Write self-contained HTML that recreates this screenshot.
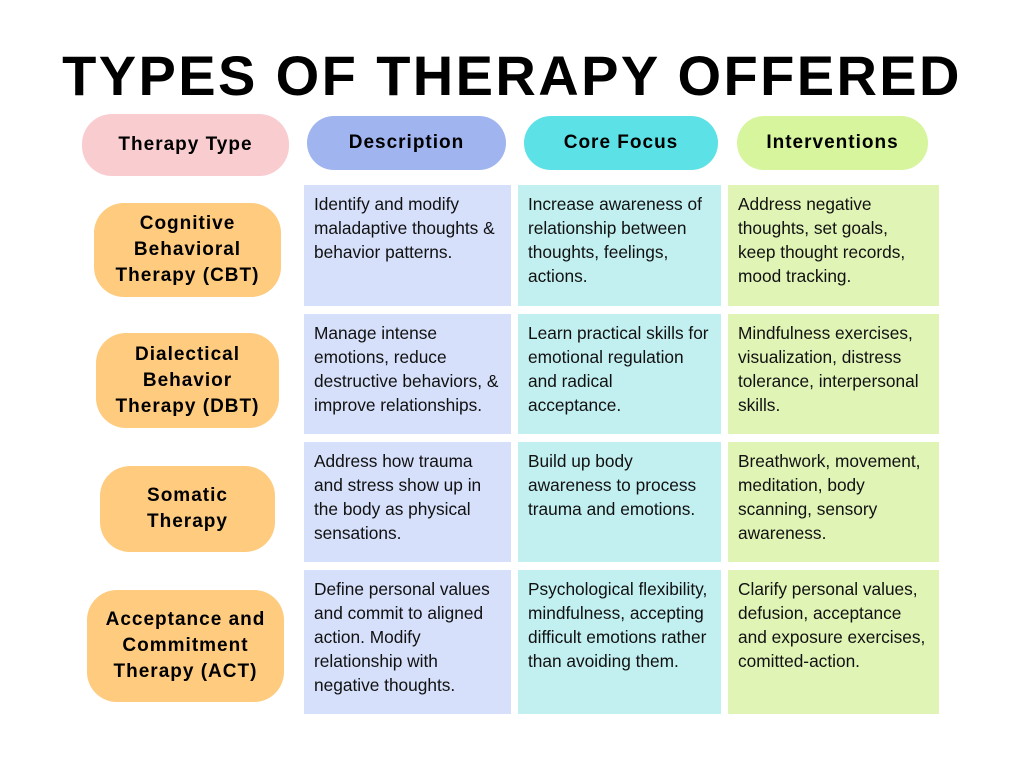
<!DOCTYPE html>
<html><head><style>
*{margin:0;padding:0;box-sizing:border-box}
body{width:1024px;height:768px;background:#fff;position:relative;font-family:"Liberation Sans",sans-serif;overflow:hidden}
.t{position:absolute;left:0;width:1024px;top:44px;text-align:center;font-weight:bold;font-size:56px;letter-spacing:2.4px;color:#000;line-height:64px}
.p{position:absolute;display:flex;align-items:center;justify-content:center;text-align:center;font-weight:bold;color:#000;border-radius:30px;font-size:19px;letter-spacing:1px;line-height:26px}
.c{position:absolute;font-size:17.3px;line-height:24px;color:#111;padding:7px 0 8px 10px;white-space:nowrap}
.d{background:#d6e0fa;left:304px;width:207px}
.f{background:#c2eff0;left:518px;width:203px}
.i{background:#e0f4b6;left:728px;width:211px}
.o{background:#fecb7f}
</style></head><body>
<div class="t">TYPES OF THERAPY OFFERED</div>
<div class="p" style="left:82px;top:114px;width:207px;height:62px;background:#f9cdd0">Therapy Type</div>
<div class="p" style="left:307px;top:116px;width:199px;height:54px;background:#a0b4ef">Description</div>
<div class="p" style="left:524px;top:116px;width:194px;height:54px;background:#5ce1e6">Core Focus</div>
<div class="p" style="left:737px;top:116px;width:191px;height:54px;background:#d6f59c">Interventions</div>

<div class="p o" style="left:94px;top:203px;width:187px;height:94px">Cognitive<br>Behavioral<br>Therapy (CBT)</div>
<div class="p o" style="left:96px;top:333px;width:183px;height:95px">Dialectical<br>Behavior<br>Therapy (DBT)</div>
<div class="p o" style="left:100px;top:466px;width:175px;height:86px">Somatic<br>Therapy</div>
<div class="p o" style="left:87px;top:590px;width:197px;height:112px">Acceptance and<br>Commitment<br>Therapy (ACT)</div>

<div class="c d" style="top:185px;height:121px">Identify and modify<br>maladaptive thoughts &amp;<br>behavior patterns.</div>
<div class="c f" style="top:185px;height:121px">Increase awareness of<br>relationship between<br>thoughts, feelings,<br>actions.</div>
<div class="c i" style="top:185px;height:121px">Address negative<br>thoughts, set goals,<br>keep thought records,<br>mood tracking.</div>

<div class="c d" style="top:314px;height:120px">Manage intense<br>emotions, reduce<br>destructive behaviors, &amp;<br>improve relationships.</div>
<div class="c f" style="top:314px;height:120px">Learn practical skills for<br>emotional regulation<br>and radical<br>acceptance.</div>
<div class="c i" style="top:314px;height:120px">Mindfulness exercises,<br>visualization, distress<br>tolerance, interpersonal<br>skills.</div>

<div class="c d" style="top:442px;height:120px">Address how trauma<br>and stress show up in<br>the body as physical<br>sensations.</div>
<div class="c f" style="top:442px;height:120px">Build up body<br>awareness to process<br>trauma and emotions.</div>
<div class="c i" style="top:442px;height:120px">Breathwork, movement,<br>meditation, body<br>scanning, sensory<br>awareness.</div>

<div class="c d" style="top:570px;height:144px">Define personal values<br>and commit to aligned<br>action. Modify<br>relationship with<br>negative thoughts.</div>
<div class="c f" style="top:570px;height:144px">Psychological flexibility,<br>mindfulness, accepting<br>difficult emotions rather<br>than avoiding them.</div>
<div class="c i" style="top:570px;height:144px">Clarify personal values,<br>defusion, acceptance<br>and exposure exercises,<br>comitted-action.</div>
</body></html>
